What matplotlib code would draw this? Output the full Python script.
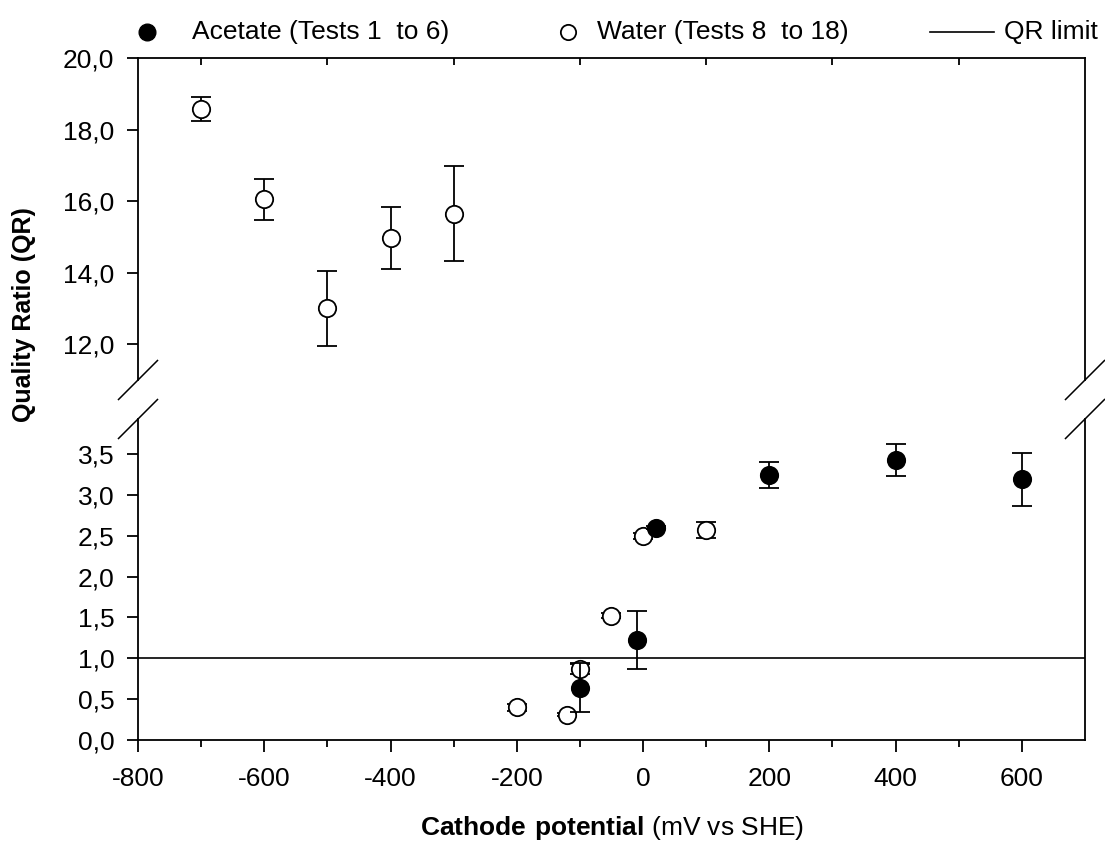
import matplotlib
matplotlib.use("Agg")
import matplotlib.pyplot as plt
from matplotlib.lines import Line2D
from matplotlib.ticker import FixedLocator, FixedFormatter

# ---------------- data ----------------
water_x = [-700, -600, -500, -400, -300, -200, -120, -100, -50, 0, 100]
water_y = [18.57, 16.05, 13.00, 14.96, 15.65, 0.40, 0.31, 0.87, 1.52, 2.50, 2.57]
water_err = [0.33, 0.57, 1.04, 0.87, 1.32, 0.04, 0.02, 0.06, 0.03, 0.04, 0.10]

acetate_x = [-100, -10, 20, 200, 400, 600]
acetate_y = [0.64, 1.22, 2.60, 3.24, 3.43, 3.19]
acetate_err = [0.30, 0.355, 0.02, 0.16, 0.20, 0.32]

qr_limit = 1.0

x_major = [-800, -600, -400, -200, 0, 200, 400, 600]
x_major_labels = ["-800", "-600", "-400", "-200", "0", "200", "400", "600"]
x_minor = [-700, -500, -300, -100, 100, 300, 500]

top_yticks = [12, 14, 16, 18, 20]
top_ylabels = ["12,0", "14,0", "16,0", "18,0", "20,0"]
bot_yticks = [0, 0.5, 1.0, 1.5, 2.0, 2.5, 3.0, 3.5]
bot_ylabels = ["0,0", "0,5", "1,0", "1,5", "2,0", "2,5", "3,0", "3,5"]

legend_labels = ["Acetate (Tests 1  to 6)", "Water (Tests 8  to 18)", "QR limit"]

# ---------------- style ----------------
plt.rcParams['font.family'] = ['Liberation Sans', 'DejaVu Sans']
plt.rcParams['mathtext.fontset'] = 'custom'
plt.rcParams['mathtext.rm'] = 'Liberation Sans'
plt.rcParams['mathtext.bf'] = 'Liberation Sans:bold'
FS = 19
LW = 1.3

W, H = 1105, 850
fig = plt.figure(figsize=(W / 100, H / 100), dpi=100)

def px(x0, y0, x1, y1):
    return [x0 / W, 1 - y1 / H, (x1 - x0) / W, (y1 - y0) / H]

ax_top = fig.add_axes(px(138, 58, 1085, 380))
ax_bot = fig.add_axes(px(138, 419, 1085, 740))

for ax in (ax_top, ax_bot):
    ax.errorbar(water_x, water_y, yerr=water_err, fmt='o', ms=12.5,
                mfc='white', mec='black', mew=1.3, ecolor='black',
                elinewidth=1.3, capsize=7, capthick=1.3, zorder=3)
    ax.errorbar(acetate_x, acetate_y, yerr=acetate_err, fmt='o', ms=12.5,
                mfc='black', mec='black', mew=1.3, ecolor='black',
                elinewidth=1.3, capsize=7, capthick=1.3, zorder=4)
    ax.set_xlim(-800, 700)
    for s in ax.spines.values():
        s.set_linewidth(LW)
    ax.tick_params(axis='both', labelsize=FS, width=LW, colors='black')

ax_bot.axhline(qr_limit, color='black', lw=1.2, zorder=2)

# top panel
ax_top.set_ylim(11, 20)
ax_top.spines['bottom'].set_visible(False)
ax_top.yaxis.set_major_locator(FixedLocator(top_yticks))
ax_top.yaxis.set_major_formatter(FixedFormatter(top_ylabels))
ax_top.tick_params(axis='y', direction='out', length=8, pad=9, right=False)
ax_top.xaxis.set_major_locator(FixedLocator([]))
ax_top.xaxis.set_minor_locator(FixedLocator(x_minor))
ax_top.tick_params(axis='x', which='both', bottom=False, top=True,
                   labelbottom=False, labeltop=False)
ax_top.tick_params(axis='x', which='minor', direction='in', length=5, width=LW)

# bottom panel
ax_bot.set_ylim(0, 3.93)
ax_bot.spines['top'].set_visible(False)
ax_bot.yaxis.set_major_locator(FixedLocator(bot_yticks))
ax_bot.yaxis.set_major_formatter(FixedFormatter(bot_ylabels))
ax_bot.tick_params(axis='y', direction='out', length=8, pad=9, right=False)
ax_bot.xaxis.set_major_locator(FixedLocator(x_major))
ax_bot.xaxis.set_major_formatter(FixedFormatter(x_major_labels))
ax_bot.xaxis.set_minor_locator(FixedLocator(x_minor))
ax_bot.tick_params(axis='x', which='major', direction='out', length=8.5, pad=11)
ax_bot.tick_params(axis='x', which='minor', direction='out', length=5, width=LW)

# break marks
d = 19.5
for xc in (138, 1085):
    for yc in (380, 419):
        fig.add_artist(Line2D([(xc - d) / W, (xc + d) / W],
                              [1 - (yc + d) / H, 1 - (yc - d) / H],
                              color='black', lw=1.1))

# axis labels
fig.text(24 / W, 1 - 315 / H, "Quality Ratio (QR)", rotation=90, fontsize=FS - 1,
         fontweight='bold', ha='center', va='center')
fig.text(612 / W, 1 - 828 / H, r"$\mathbf{Cathode\ potential}$ (mV vs SHE)",
         fontsize=FS, ha='center', va='center')

# legend (manual)
ly = 1 - 32 / H
fig.add_artist(Line2D([147 / W], [ly], marker='o', ms=12, mfc='black',
                      mec='black', ls='none'))
fig.text(192 / W, ly, legend_labels[0], fontsize=FS, ha='left', va='center')
fig.add_artist(Line2D([568 / W], [ly], marker='o', ms=11, mfc='white',
                      mec='black', mew=1.3, ls='none'))
fig.text(597 / W, ly, legend_labels[1], fontsize=FS, ha='left', va='center')
fig.add_artist(Line2D([930 / W, 994 / W], [ly, ly], color='black', lw=1.2))
fig.text(1004 / W, ly, legend_labels[2], fontsize=FS, ha='left', va='center')

fig.savefig("out.png", dpi=100)
